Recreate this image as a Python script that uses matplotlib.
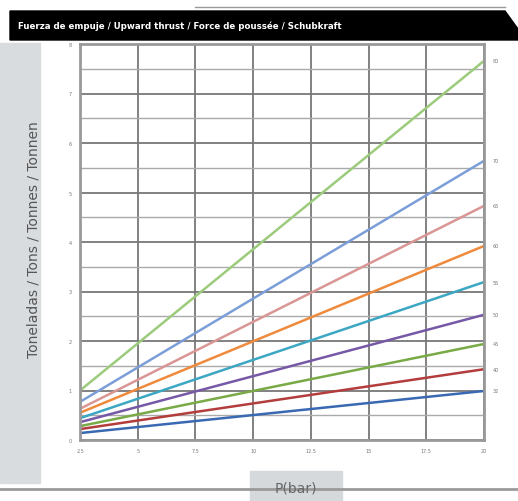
import matplotlib.pyplot as plt
from matplotlib.patches import Rectangle, Polygon

# 数据: 各系列在起点和终点压力处的推力(吨)
p_ticks = [2.5, 5, 7.5, 10, 12.5, 15, 17.5, 20]
p_range = [2.5, 20]
series_names = ["80", "70", "65", "60", "55", "50", "45", "40", "32"]
start_vals = [1.00, 0.77, 0.63, 0.55, 0.44, 0.36, 0.28, 0.22, 0.14]
end_vals = [7.66, 5.64, 4.73, 3.92, 3.19, 2.53, 1.94, 1.43, 0.99]
colors = ["#9ccb7c", "#7c9ed8", "#d99694", "#ef8a3c", "#3ca7c3",
          "#7659a6", "#78aa46", "#b33d3d", "#3a69b3"]

W, H = 518, 502
fig = plt.figure(figsize=(W / 100, H / 100), dpi=100)

# 顶部黑色标题栏
bg = fig.add_axes([0, 0, 1, 1])
bg.set_xlim(0, W)
bg.set_ylim(H, 0)
bg.axis("off")
bg.add_patch(Polygon([[10, 12], [505, 12], [518, 30], [518, 41], [10, 41]],
                     closed=True, color="black"))
bg.plot([195, 505], [8, 8], color="#999999", lw=1)
bg.text(18, 26, "Fuerza de empuje / Upward thrust / Force de poussée / Schubkraft",
        color="white", fontsize=6.2, fontweight="bold", va="center", ha="left")

# 左侧灰色面板 + y轴标题
bg.add_patch(Rectangle((0, 44), 40, 440, color="#d9dcdf"))
bg.text(34, 240, "Toneladas / Tons / Tonnes / Tonnen", rotation=90,
        color="#555555", fontsize=10, ha="center", va="center")

# 底部线条 + P(bar) 标签
bg.plot([0, 518], [490, 490], color="#9a9a9a", lw=2)
bg.add_patch(Rectangle((250, 472), 92, 30, color="#d6d9dc"))
bg.text(296, 489, "P(bar)", color="#666666", fontsize=10, ha="center", va="center")

# 主图
ax = fig.add_axes([80 / W, 1 - 441 / H, (484 - 80) / W, (441 - 45) / H])
ax.set_xlim(p_range)
ax.set_ylim(0, 8)
ax.set_xticks(p_ticks)
ax.set_xticklabels([f"{t:g}" for t in p_ticks])
ax.set_yticks(range(0, 9))
ax.set_yticks([i + 0.5 for i in range(8)], minor=True)
ax.tick_params(axis="both", which="both", length=0, labelsize=3.5,
               labelcolor="#777777", pad=6)
ax.grid(True, which="major", color="#777777", lw=1.3)
ax.grid(True, which="minor", axis="y", color="#aaaaaa", lw=1.0)
for s in ax.spines.values():
    s.set_color("#999999")
    s.set_linewidth(2)
ax.set_axisbelow(True)

for name, y0, y1, c in zip(series_names, start_vals, end_vals, colors):
    ax.plot(p_range, [y0, y1], color=c, lw=1.8, solid_capstyle="butt")
    ax.annotate(name, xy=(p_range[1], y1), xytext=(6, 0), textcoords="offset points",
                fontsize=3.5, color="#777777", va="center", annotation_clip=False)

fig.savefig("out.png", dpi=100)
